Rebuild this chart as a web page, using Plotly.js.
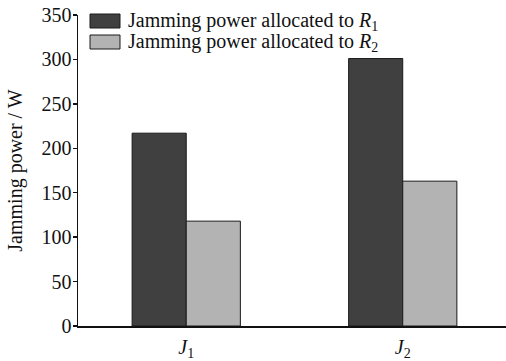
<!DOCTYPE html>
<html>
<head>
<meta charset="utf-8">
<script src="https://cdn.plot.ly/plotly-3.0.1.min.js"></script>
<style>html,body{margin:0;padding:0;background:#fff;}#chart{width:506px;height:361px;}</style>
</head>
<body>
<div id="chart"></div>
<script>
var categories = ["<i>J</i><sub>1</sub>", "<i>J</i><sub>2</sub>"];
var seriesNames = ["Jamming power allocated to <i>R</i><sub>1</sub>", "Jamming power allocated to <i>R</i><sub>2</sub>"];
var powerR1 = [217, 301];
var powerR2 = [118, 163];
var yTicks = [0, 50, 100, 150, 200, 250, 300, 350];
var colors = ["#404040", "#b3b3b3"];

function mkFont(size) {
  return {family: "'Times New Roman', 'Liberation Serif', Times, 'DejaVu Serif', serif", size: size, color: "#111"};
}

var traces = [
  {type: "bar", x: categories, y: powerR1, name: seriesNames[0],
   marker: {color: colors[0], line: {color: "#1a1a1a", width: 1}}},
  {type: "bar", x: categories, y: powerR2, name: seriesNames[1],
   marker: {color: colors[1], line: {color: "#1a1a1a", width: 1}}}
];

var legendShapes = [], legendAnn = [];
for (var i = 0; i < seriesNames.length; i++) {
  var y0 = 14 + i * 21;
  legendShapes.push({type: "rect", xref: "paper", yref: "paper",
    x0: (90 - 78) / 428, x1: (120 - 78) / 428,
    y0: 1 - (y0 - 15 + 14) / 311, y1: 1 - (y0 - 15) / 311,
    fillcolor: colors[i], line: {color: "#1a1a1a", width: 1}});
  legendAnn.push({xref: "paper", yref: "paper", x: (126 - 78) / 428,
    y: 1 - (y0 - 15 + 7) / 311, xanchor: "left", yanchor: "middle",
    text: seriesNames[i], showarrow: false, font: mkFont(20)});
}

var layout = {
  width: 506, height: 361,
  margin: {l: 78, r: 0, t: 15, b: 35},
  paper_bgcolor: "#fff", plot_bgcolor: "#fff",
  font: mkFont(20),
  showlegend: false,
  barmode: "group",
  bargap: 0.5, bargroupgap: 0,
  xaxis: {range: [-0.5, 1.477], showline: true, linecolor: "#111", linewidth: 1.5,
          ticks: "", showgrid: false, zeroline: false, tickfont: mkFont(20), ticklabelstandoff: 2},
  yaxis: {range: [0, 350], tickvals: yTicks, showline: true, linecolor: "#111", linewidth: 1.5,
          ticks: "outside", ticklen: 4, tickwidth: 1.5, tickcolor: "#111",
          showgrid: false, zeroline: false, tickfont: mkFont(20), ticklabelstandoff: -3,
          title: {text: "Jamming power / W", font: mkFont(20), standoff: 13}},
  shapes: legendShapes,
  annotations: legendAnn
};

Plotly.newPlot("chart", traces, layout, {displayModeBar: false, staticPlot: true});
</script>
</body>
</html>
